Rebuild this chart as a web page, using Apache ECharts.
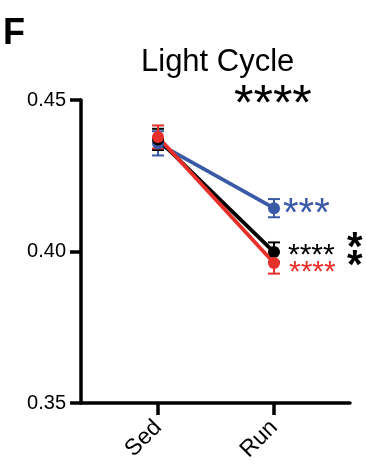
<!DOCTYPE html>
<html>
<head>
<meta charset="utf-8">
<script src="https://cdn.jsdelivr.net/npm/echarts@6/dist/echarts.min.js"></script>
<style>
  html, body { margin: 0; padding: 0; background: #fff; }
  #main { width: 366px; height: 473px; }
</style>
</head>
<body>
<div id="main"></div>
<script>
  // 数据
  var categories = ['Sed', 'Run'];
  var blueMean = [0.4357, 0.4143];
  var blueErr = [0.0040, 0.0030];
  var blackMean = [0.4370, 0.3998];
  var blackErr = [0.0035, 0.0032];
  var redMean = [0.4378, 0.3962];
  var redErr = [0.0038, 0.0035];
  var yTicks = [0.35, 0.40, 0.45];

  var FONT = 'Liberation Sans, Arial, sans-serif';

  function pts(mean) {
    return mean.map(function (v, i) { return [i, v]; });
  }
  function bars(mean, err) {
    return mean.map(function (v, i) { return [i, v - err[i], v + err[i]]; });
  }

  function errSeries(name, mean, err, color) {
    return {
      name: name + '_err',
      type: 'custom',
      z: 3,
      renderItem: function (params, api) {
        var lo = api.coord([api.value(0), api.value(1)]);
        var hi = api.coord([api.value(0), api.value(2)]);
        var w = 6;
        var st = { stroke: color, lineWidth: 2 };
        return {
          type: 'group',
          children: [
            { type: 'line', shape: { x1: lo[0], y1: lo[1], x2: hi[0], y2: hi[1] }, style: st },
            { type: 'line', shape: { x1: lo[0] - w, y1: lo[1], x2: lo[0] + w, y2: lo[1] }, style: st },
            { type: 'line', shape: { x1: hi[0] - w, y1: hi[1], x2: hi[0] + w, y2: hi[1] }, style: st }
          ]
        };
      },
      encode: { x: 0, y: [1, 2] },
      data: bars(mean, err)
    };
  }

  function lineSeries(name, mean, color) {
    return {
      name: name,
      type: 'line',
      z: 4,
      data: pts(mean),
      symbol: 'circle',
      symbolSize: 12,
      lineStyle: { color: color, width: 3.8 },
      itemStyle: { color: color }
    };
  }

  function star(txt, left, top, size, color, weight) {
    return {
      type: 'text', left: left, top: top,
      style: { text: txt, font: (weight || 'normal') + ' ' + size + 'px ' + FONT, fill: color }
    };
  }

  var myChart = echarts.init(document.getElementById('main'));
  myChart.setOption({
    backgroundColor: '#fff',
    animation: false,
    grid: { left: 81, right: 16, top: 100, bottom: 70 },
    xAxis: {
      type: 'value',
      min: -0.664,
      max: 1.655,
      splitLine: { show: false },
      axisLine: { show: true, onZero: false, lineStyle: { color: '#000', width: 3.5 } },
      axisTick: { show: true, customValues: [0, 1], length: 12, lineStyle: { color: '#000', width: 3.5 } },
      axisLabel: {
        customValues: [0, 1],
        rotate: 45,
        margin: 21,
        fontFamily: FONT,
        fontSize: 23,
        color: '#000',
        formatter: function (v) { return categories[Math.round(v)]; }
      }
    },
    yAxis: {
      type: 'value',
      min: yTicks[0],
      max: yTicks[yTicks.length - 1],
      interval: 0.05,
      splitLine: { show: false },
      axisLine: { show: true, onZero: false, lineStyle: { color: '#000', width: 3.5 } },
      axisTick: { show: true, length: 11, lineStyle: { color: '#000', width: 3.5 } },
      axisLabel: {
        fontFamily: FONT,
        fontSize: 20,
        color: '#000',
        margin: 15,
        formatter: function (v) { return v.toFixed(2); }
      }
    },
    graphic: [
      { type: 'text', left: 3, top: 16, style: { text: 'F', font: 'bold 36px ' + FONT, fill: '#000' } },
      { type: 'text', left: 141, top: 47, style: { text: 'Light Cycle', font: '31px ' + FONT, fill: '#000' } },
      star('****', 234, 81, 50, '#000'),
      star('***', 283, 195, 40, '#3a5aa8'),
      star('****', 288, 241, 30, '#000'),
      star('****', 289, 258, 30, '#e8302a'),
      star('*', 347, 229, 40, '#000', 'bold'),
      star('*', 347, 247, 40, '#000', 'bold')
    ],
    series: [
      errSeries('blue', blueMean, blueErr, '#3a5aa8'),
      errSeries('black', blackMean, blackErr, '#000'),
      errSeries('red', redMean, redErr, '#e8302a'),
      lineSeries('blue', blueMean, '#3a5aa8'),
      lineSeries('black', blackMean, '#000'),
      lineSeries('red', redMean, '#e8302a')
    ]
  });
</script>
</body>
</html>
